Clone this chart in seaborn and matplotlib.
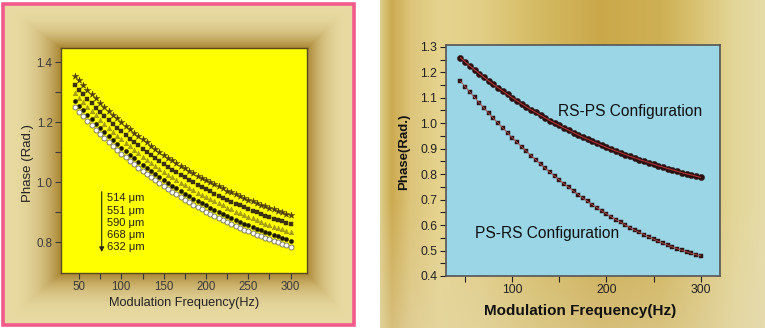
import numpy as np
import pandas as pd
import matplotlib
matplotlib.use("Agg")
import matplotlib.pyplot as plt
import matplotlib.patches as mpatches
import seaborn as sns

# ---------------- data ----------------
freq = [45, 50, 55, 60, 65, 70, 75, 80, 85, 90, 95, 100, 105, 110, 115, 120,
        125, 130, 135, 140, 145, 150, 155, 160, 165, 170, 175, 180, 185, 190,
        195, 200, 205, 210, 215, 220, 225, 230, 235, 240, 245, 250, 255, 260,
        265, 270, 275, 280, 285, 290, 295, 300]

thick_labels = ["514 \u03bcm", "551 \u03bcm", "590 \u03bcm", "668 \u03bcm", "632 \u03bcm"]

phase_514 = [1.356, 1.340, 1.325, 1.309, 1.295, 1.280, 1.266, 1.253, 1.239, 1.226, 1.213,
             1.201, 1.189, 1.177, 1.166, 1.154, 1.143, 1.133, 1.122, 1.112, 1.102, 1.093,
             1.083, 1.074, 1.065, 1.056, 1.048, 1.039, 1.031, 1.023, 1.016, 1.008, 1.001,
             0.994, 0.987, 0.980, 0.973, 0.967, 0.960, 0.954, 0.948, 0.942, 0.937, 0.931,
             0.926, 0.920, 0.915, 0.910, 0.905, 0.901, 0.896, 0.891]
phase_551 = [1.325, 1.309, 1.294, 1.278, 1.264, 1.249, 1.235, 1.222, 1.208, 1.195, 1.182,
             1.170, 1.158, 1.146, 1.135, 1.123, 1.112, 1.102, 1.091, 1.081, 1.071, 1.062,
             1.052, 1.043, 1.034, 1.025, 1.017, 1.008, 1.000, 0.992, 0.985, 0.977, 0.970,
             0.963, 0.956, 0.949, 0.942, 0.936, 0.929, 0.923, 0.917, 0.911, 0.906, 0.900,
             0.895, 0.889, 0.884, 0.879, 0.874, 0.870, 0.865, 0.860]
phase_590 = [1.299, 1.283, 1.268, 1.252, 1.238, 1.223, 1.209, 1.196, 1.182, 1.169, 1.156,
             1.144, 1.132, 1.120, 1.109, 1.097, 1.086, 1.076, 1.065, 1.055, 1.045, 1.036,
             1.026, 1.017, 1.008, 0.999, 0.991, 0.982, 0.974, 0.966, 0.959, 0.951, 0.944,
             0.937, 0.930, 0.923, 0.916, 0.910, 0.903, 0.897, 0.891, 0.885, 0.880, 0.874,
             0.869, 0.863, 0.858, 0.853, 0.848, 0.844, 0.839, 0.834]
phase_668 = [1.271, 1.255, 1.240, 1.224, 1.210, 1.195, 1.181, 1.168, 1.154, 1.141, 1.128,
             1.116, 1.104, 1.092, 1.081, 1.069, 1.058, 1.048, 1.037, 1.027, 1.017, 1.008,
             0.998, 0.989, 0.980, 0.971, 0.963, 0.954, 0.946, 0.938, 0.931, 0.923, 0.916,
             0.909, 0.902, 0.895, 0.888, 0.882, 0.875, 0.869, 0.863, 0.857, 0.852, 0.846,
             0.841, 0.835, 0.830, 0.825, 0.820, 0.816, 0.811, 0.806]
phase_632 = [1.251, 1.235, 1.220, 1.204, 1.190, 1.175, 1.161, 1.148, 1.134, 1.121, 1.108,
             1.096, 1.084, 1.072, 1.061, 1.049, 1.038, 1.028, 1.017, 1.007, 0.997, 0.988,
             0.978, 0.969, 0.960, 0.951, 0.943, 0.934, 0.926, 0.918, 0.911, 0.903, 0.896,
             0.889, 0.882, 0.875, 0.868, 0.862, 0.855, 0.849, 0.843, 0.837, 0.832, 0.826,
             0.821, 0.815, 0.810, 0.805, 0.800, 0.796, 0.791, 0.786]

config_labels = ["RS-PS Configuration", "PS-RS Configuration"]
phase_rs_ps = [1.257, 1.241, 1.225, 1.210, 1.195, 1.180, 1.166, 1.152, 1.139, 1.126, 1.113,
               1.100, 1.088, 1.076, 1.064, 1.053, 1.042, 1.031, 1.021, 1.010, 1.000, 0.991,
               0.981, 0.972, 0.963, 0.954, 0.945, 0.937, 0.929, 0.921, 0.913, 0.905, 0.898,
               0.891, 0.884, 0.877, 0.870, 0.864, 0.857, 0.851, 0.845, 0.839, 0.833, 0.828,
               0.822, 0.817, 0.811, 0.806, 0.801, 0.797, 0.792, 0.787]
phase_ps_rs = [1.165, 1.143, 1.122, 1.101, 1.080, 1.059, 1.039, 1.019, 1.000, 0.981, 0.962,
               0.943, 0.925, 0.907, 0.890, 0.873, 0.856, 0.839, 0.823, 0.807, 0.792, 0.777,
               0.762, 0.748, 0.733, 0.720, 0.706, 0.693, 0.680, 0.668, 0.656, 0.644, 0.633,
               0.621, 0.611, 0.600, 0.590, 0.580, 0.571, 0.562, 0.553, 0.545, 0.536, 0.529,
               0.521, 0.514, 0.507, 0.501, 0.495, 0.489, 0.484, 0.479]

left_x_ticks = [50, 100, 150, 200, 250, 300]
left_y_ticks = [0.8, 1.0, 1.2, 1.4]
right_x_ticks = [100, 200, 300]
right_y_ticks = [0.4, 0.5, 0.6, 0.7, 0.8, 0.9, 1.0, 1.1, 1.2, 1.3]

left_series = [phase_514, phase_551, phase_590, phase_668, phase_632]
df_left = pd.concat([pd.DataFrame({"freq": freq, "phase": s, "thickness": lab})
                     for s, lab in zip(left_series, thick_labels)], ignore_index=True)
df_right = pd.concat([pd.DataFrame({"freq": freq, "phase": s, "config": lab})
                      for s, lab in zip([phase_rs_ps, phase_ps_rs], config_labels)],
                     ignore_index=True)

# ---------------- style ----------------
sns.set_style("ticks")
plt.rcParams["font.family"] = ["Liberation Sans", "DejaVu Sans"]

W, H = 765, 328
fig = plt.figure(figsize=(W / 100, H / 100), dpi=100)

# ---------------- background ----------------
bg = fig.add_axes([0, 0, 1, 1], zorder=-10)
bg.set_xlim(0, W)
bg.set_ylim(H, 0)
bg.axis("off")

yy, xx = np.mgrid[0:H, 0:W] + 0.5
img = np.ones((H, W, 3))

# left framed panel (bevelled vignette)
L0, R0, T0, B0 = 4.0, 353.0, 5.0, 324.0
px0, px1, py0, py1 = 61.0, 307.0, 48.0, 273.0
f = np.minimum.reduce([(xx - L0) / (px0 - L0), (R0 - xx) / (R0 - px1),
                       (yy - T0) / (py0 - T0), (B0 - yy) / (B0 - py1)])
f = np.clip(f, 0, 1) ** 2.6
light = np.array([232, 218, 162]) / 255
dark = np.array([170, 134, 50]) / 255
col = light + (dark - light) * f[..., None]
mask = (xx >= L0) & (xx <= R0) & (yy >= T0) & (yy <= B0)
img[mask] = col[mask]

# right gold panel
rx0 = 380.0
stops_x = np.array([380, 392, 410, 440, 480, 540, 600, 660, 700, 735, 765], float)
stops_c = np.array([[222, 206, 140], [204, 170, 80], [220, 196, 122], [230, 212, 142],
                    [226, 206, 134], [212, 186, 98], [202, 168, 74], [206, 176, 84],
                    [218, 196, 118], [228, 214, 152], [230, 220, 170]], float) / 255
cream = np.array([228, 216, 176]) / 255
vfade = 0.45 * np.clip((yy[:, 0] - 200) / 128, 0, 1)[:, None]
rmask = xx >= rx0
for c in range(3):
    base = np.interp(xx[0], stops_x, stops_c[:, c])
    chan = base[None, :] * (1 - vfade) + cream[c] * vfade
    layer = img[..., c]
    layer[rmask] = np.broadcast_to(chan, (H, W))[rmask]
    img[..., c] = layer

bg.imshow(img, extent=(0, W, H, 0), aspect="auto", interpolation="bilinear")
bg.add_patch(mpatches.Rectangle((2.8, 3.6), 351.6, 321.8, fill=False,
                                edgecolor="#f25a8c", lw=2.6))

# ---------------- left chart ----------------
axL = fig.add_axes([61 / W, 1 - 273 / H, 246 / W, 225 / H])
axL.set_facecolor("#ffff00")
styles = {
    "514 \u03bcm": dict(marker="*", s=24, color="#4d3d10", edgecolor="#4d3d10", linewidth=0.3),
    "551 \u03bcm": dict(marker="s", s=9, color="#3c3212", edgecolor="#3c3212", linewidth=0.3),
    "590 \u03bcm": dict(marker="^", s=11, color="#aaa015", edgecolor="#8a8410", linewidth=0.3),
    "668 \u03bcm": dict(marker="o", s=9, color="#1c1a05", edgecolor="#1c1a05", linewidth=0.3),
    "632 \u03bcm": dict(marker="o", s=13, color="white", edgecolor="#707060", linewidth=0.6),
}
for lab in thick_labels:
    sub = df_left[df_left["thickness"] == lab]
    sns.scatterplot(data=sub, x="freq", y="phase", ax=axL, legend=False, zorder=3,
                    **styles[lab])
axL.set_xlim(28.7, 319.3)
axL.set_ylim(0.698, 1.448)
axL.set_xticks(left_x_ticks)
axL.set_xticks([75, 125, 175, 225, 275], minor=True)
axL.set_yticks(left_y_ticks)
axL.set_yticks([0.9, 1.1, 1.3], minor=True)
axL.set_yticklabels([f"{v:.1f}" for v in left_y_ticks])
axL.tick_params(which="both", direction="out", length=4, width=0.8, colors="#3a3a3a",
                labelsize=8.3, pad=2)
for sp in axL.spines.values():
    sp.set_visible(True)
    sp.set_color("#5a4a22")
    sp.set_linewidth(1.0)
axL.set_xlabel("Modulation Frequency(Hz)", fontsize=9.2, color="#222222")
axL.set_ylabel("Phase (Rad.)", fontsize=9.5, color="#222222")
axL.xaxis.set_label_coords(0.5, -0.133)
axL.xaxis.label.set_va("center")
axL.yaxis.set_label_coords(-0.134, 0.487)
axL.yaxis.label.set_va("center")

leg_y = [0.947, 0.906, 0.866, 0.825, 0.784]
for lab, yv in zip(thick_labels, leg_y):
    axL.text(83.5, yv, lab, fontsize=8, va="center", ha="left", color="#222222")
axL.annotate("", xy=(76.8, 0.768), xytext=(76.8, 0.969),
             arrowprops=dict(arrowstyle="-|>", color="#222222", lw=0.8,
                             mutation_scale=7, shrinkA=0, shrinkB=0))

# ---------------- right chart ----------------
axR = fig.add_axes([445.7 / W, 1 - 276 / H, 274.3 / W, 231 / H])
axR.set_facecolor("#9ad6e6")
sub = df_right[df_right["config"] == config_labels[0]]
sns.scatterplot(data=sub, x="freq", y="phase", ax=axR, legend=False, marker="o", s=20,
                color="#2a1010", edgecolor="#2a1010", linewidth=0.3, zorder=3)
sns.lineplot(data=sub, x="freq", y="phase", ax=axR, color="#b03434", lw=0.8, zorder=4)
sub = df_right[df_right["config"] == config_labels[1]]
sns.scatterplot(data=sub, x="freq", y="phase", ax=axR, legend=False, marker="s", s=9,
                color="#2e1414", edgecolor="#2e1414", linewidth=0.3, zorder=3)
sns.lineplot(data=sub, x="freq", y="phase", ax=axR, color="#b05050", lw=0.6, zorder=4)
axR.set_xlim(29.3, 320.5)
axR.set_ylim(0.4, 1.307)
axR.set_xticks(right_x_ticks)
axR.set_xticks([50, 150, 250], minor=True)
axR.set_yticks(right_y_ticks)
axR.set_yticks([0.45, 0.55, 0.65, 0.75, 0.85, 0.95, 1.05, 1.15, 1.25], minor=True)
axR.set_yticklabels([f"{v:.1f}" for v in right_y_ticks])
axR.tick_params(which="both", direction="out", length=4, width=0.8, colors="#222222",
                labelsize=8.8, pad=2)
for sp in axR.spines.values():
    sp.set_visible(True)
    sp.set_color("#555555")
    sp.set_linewidth(1.2)
axR.set_xlabel("Modulation Frequency(Hz)", fontsize=11, fontweight="bold",
               color="#111111")
axR.set_ylabel("Phase(Rad.)", fontsize=9.5, fontweight="bold", color="#111111")
axR.xaxis.set_label_coords(0.4886, -0.150)
axR.xaxis.label.set_va("center")
axR.yaxis.set_label_coords(-0.152, 0.539)
axR.yaxis.label.set_va("center")
axR.text(148.5, 1.045, config_labels[0], fontsize=11.2, va="center", ha="left",
         color="#111111")
axR.text(60.4, 0.567, config_labels[1], fontsize=11.2, va="center", ha="left",
         color="#111111")

fig.savefig("out.png", dpi=100)
